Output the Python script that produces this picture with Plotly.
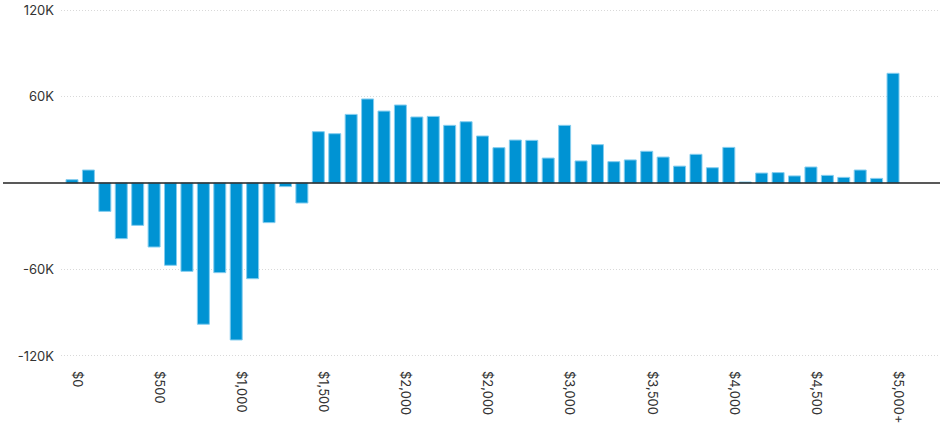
import plotly.graph_objects as go

# income buckets ($100 steps) and net change per bucket
buckets = [
    "$0", "$100", "$200", "$300", "$400", "$500", "$600", "$700", "$800", "$900",
    "$1,000", "$1,100", "$1,200", "$1,300", "$1,400", "$1,500", "$1,600", "$1,700", "$1,800", "$1,900",
    "$2,000", "$2,100", "$2,200", "$2,300", "$2,400", "$2,500", "$2,600", "$2,700", "$2,800", "$2,900",
    "$3,000", "$3,100", "$3,200", "$3,300", "$3,400", "$3,500", "$3,600", "$3,700", "$3,800", "$3,900",
    "$4,000", "$4,100", "$4,200", "$4,300", "$4,400", "$4,500", "$4,600", "$4,700", "$4,800", "$4,900",
    "$5,000+",
]
change = [
    2300, 9000, -19700, -38600, -29400, -44400, -57100, -61300, -98000, -62200,
    -108900, -66400, -27500, -2500, -13900, 35600, 34200, 47600, 58300, 49900,
    54100, 45800, 46200, 40000, 42500, 32600, 24500, 29800, 29600, 17300,
    40000, 15300, 26600, 14800, 16000, 22000, 18000, 11700, 19900, 10600,
    24700, 700, 6900, 7200, 4900, 11100, 5300, 3900, 9000, 3200,
    76100,
]

tick_vals = ["$0", "$500", "$1,000", "$1,500", "$2,000", "$2,500",
             "$3,000", "$3,500", "$4,000", "$4,500", "$5,000+"]
tick_text = ["$0", "$500", "$1,000", "$1,500", "$2,000", "$2,000",
             "$3,000", "$3,500", "$4,000", "$4,500", "$5,000+"]

y_ticks = [-120000, -60000, 60000, 120000]
y_labels = ["-120K", "-60K", "60K", "120K"]

fig = go.Figure()
fig.add_trace(go.Bar(
    x=buckets,
    y=change,
    marker=dict(color="#0093d3", line=dict(color="#84cdef", width=1)),
    hovertemplate="%{x}: %{y:,}<extra></extra>",
))

# zero line runs past the plot area to the left edge
fig.add_shape(type="line", xref="paper", yref="y", x0=-0.066, x1=1, y0=0, y1=0,
              line=dict(color="#222222", width=1.3), layer="above")

fig.update_layout(
    width=943,
    height=436,
    margin=dict(l=61, r=3, t=8, b=77),
    paper_bgcolor="white",
    plot_bgcolor="white",
    showlegend=False,
    bargap=0.27,
    font=dict(family="Inter, Liberation Sans, sans-serif", size=13, color="#333333"),
    xaxis=dict(
        type="category",
        range=[-0.67, 52.86],
        automargin=False,
        tickmode="array",
        tickvals=tick_vals,
        ticktext=tick_text,
        tickangle=90,
        showgrid=False,
        zeroline=False,
        showline=False,
        ticks="",
        ticklabelstandoff=11,
        ticklabelshift=5,
        tickfont=dict(size=13, color="#333333"),
    ),
    yaxis=dict(
        range=[-122100, 121400],
        automargin=False,
        tickmode="array",
        tickvals=y_ticks,
        ticktext=y_labels,
        ticklabeloverflow="allow",
        showgrid=True,
        gridcolor="#d9d9d9",
        griddash="1px,2px",
        gridwidth=1,
        zeroline=False,
        showline=False,
        ticks="",
        ticklabelstandoff=6,
        tickfont=dict(size=13, color="#333333"),
    ),
)

# drop the default body margin so the figure sits at the window corner
fig.write_html("out.html", config={"displayModeBar": False},
               post_script="document.body.style.margin='0px';")
